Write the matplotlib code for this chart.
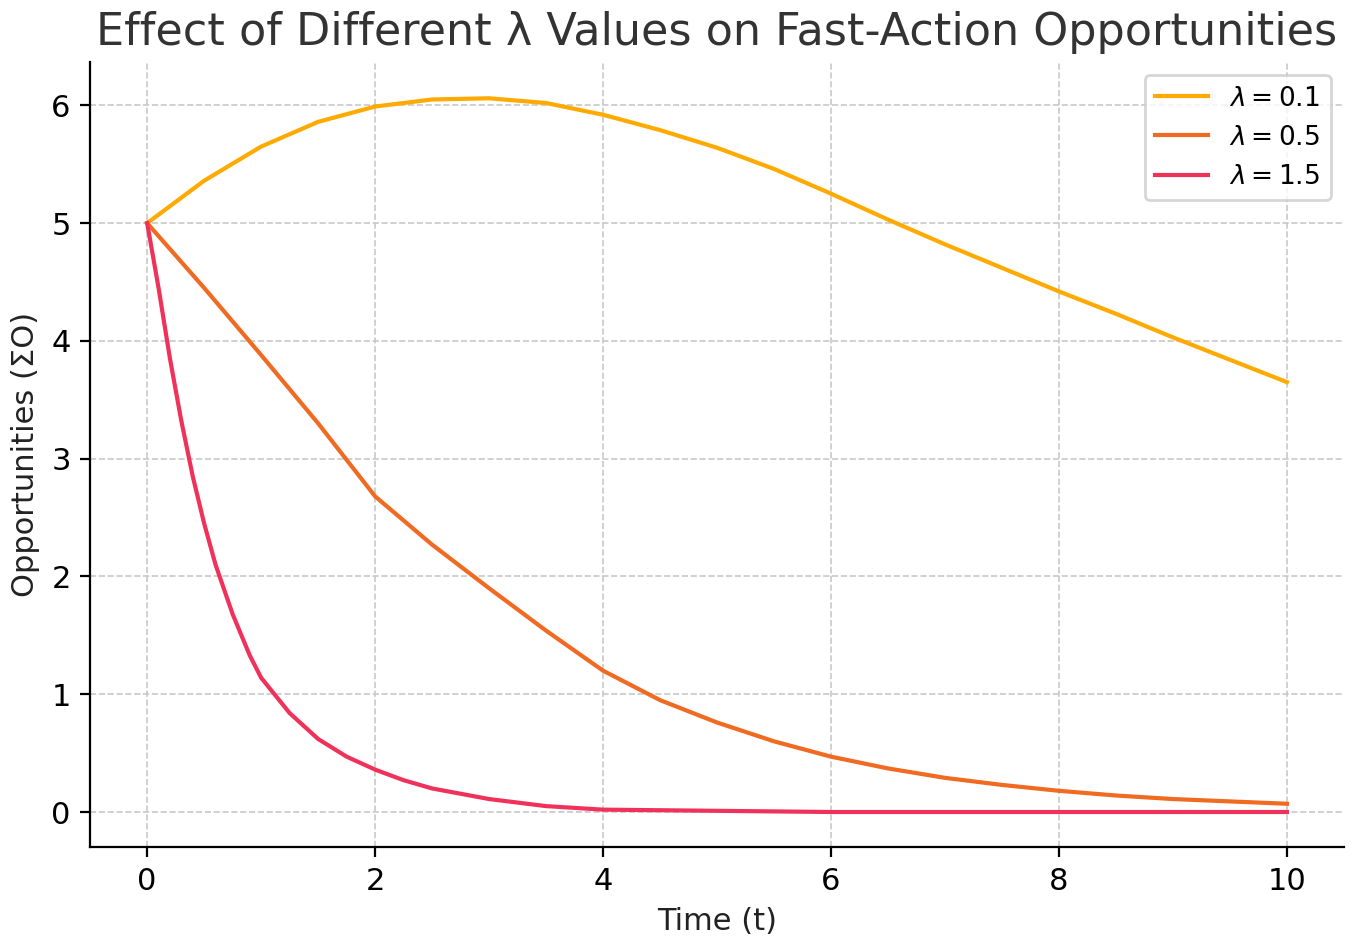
import matplotlib
matplotlib.use("Agg")
import matplotlib.pyplot as plt

t_a = [0, 0.5, 1, 1.5, 2, 2.5, 3, 3.5, 4, 4.5, 5, 5.5, 6, 6.5, 7, 7.5, 8, 8.5, 9, 9.5, 10]
y_01 = [5.0, 5.36, 5.65, 5.86, 5.99, 6.05, 6.06, 6.02, 5.92, 5.79, 5.64, 5.46, 5.25, 5.03, 4.82, 4.62, 4.42, 4.23, 4.03, 3.84, 3.65]
y_05 = [5.0, 4.45, 3.88, 3.30, 2.68, 2.27, 1.90, 1.54, 1.20, 0.95, 0.76, 0.60, 0.47, 0.37, 0.29, 0.23, 0.18, 0.14, 0.11, 0.09, 0.07]
t_c = [0, 0.1, 0.2, 0.3, 0.4, 0.5, 0.6, 0.75, 0.9, 1.0, 1.25, 1.5, 1.75, 2.0, 2.25, 2.5, 3.0, 3.5, 4.0, 5.0, 6.0, 8.0, 10.0]
y_15 = [5.0, 4.45, 3.85, 3.32, 2.85, 2.45, 2.10, 1.68, 1.33, 1.14, 0.84, 0.62, 0.47, 0.36, 0.27, 0.20, 0.11, 0.05, 0.02, 0.01, 0.0, 0.0, 0.0]
labels = [r"$\lambda = 0.1$", r"$\lambda = 0.5$", r"$\lambda = 1.5$"]

fig, ax = plt.subplots(figsize=(6.775, 4.735), dpi=200)
ax.plot(t_a, y_01, color="#FFAA00", lw=1.5, label=labels[0])
ax.plot(t_a, y_05, color="#F06A22", lw=1.5, label=labels[1])
ax.plot(t_c, y_15, color="#F0325A", lw=1.5, label=labels[2])
ax.set_title("Effect of Different λ Values on Fast-Action Opportunities", fontsize=16, color="#333333")
ax.set_xlabel("Time (t)", fontsize=11, color="#222222")
ax.set_ylabel("Opportunities (ΣO)", fontsize=11, color="#222222")
ax.grid(True, ls="--", lw=0.6, color="#c8c8c8")
ax.spines["top"].set_visible(False)
ax.spines["right"].set_visible(False)
ax.tick_params(labelsize=11)
ax.set_xlim(-0.5, 10.5)
ax.set_ylim(-0.3, 6.37)
ax.legend(loc="upper right", fontsize=9.5)
plt.tight_layout(pad=0.4)
fig.savefig("out.png", dpi=200)
